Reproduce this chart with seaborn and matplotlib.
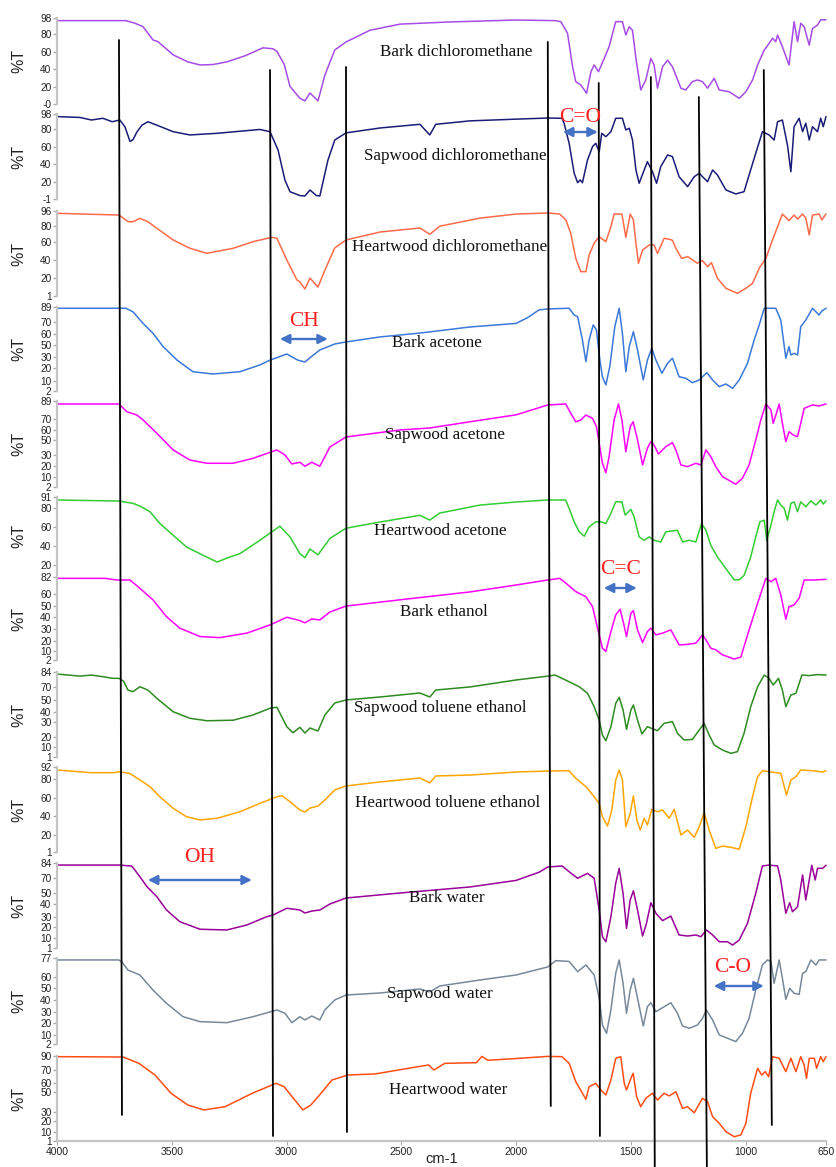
import matplotlib
matplotlib.use('Agg')
import matplotlib.pyplot as plt
import pandas as pd
import seaborn as sns

sns.set_style('white')
plt.rcParams['font.family'] = ['Liberation Sans', 'DejaVu Sans']

# spectra: (wavenumber cm-1, %T)
bark_dcm = [(4000, 95), (3780, 95), (3700, 95), (3660, 92), (3625, 88), (3582, 73), (3560, 71), (3494, 56),
            (3430, 48), (3377, 44.5), (3320, 45), (3260, 48), (3180, 55), (3103, 64), (3060, 63), (3042, 60),
            (3010, 45), (2985, 20), (2942, 6.5), (2920, 3.5), (2898, 12.6), (2863, 3.5), (2833, 33), (2790, 61.5),
            (2741, 70.7), (2637, 84), (2506, 91), (2289, 93.5), (2000, 95.7), (1830, 95), (1805, 93.8), (1776, 80.6),
            (1754, 42.5), (1740, 25.5), (1718, 21.7), (1693, 12.2), (1674, 36.8), (1660, 44.5), (1641, 36.8),
            (1616, 52), (1595, 65.3), (1566, 93.8), (1537, 93.8), (1522, 78.6), (1507, 88), (1493, 84), (1478, 52),
            (1457, 16), (1435, 27.4), (1413, 52), (1399, 44.5), (1384, 18), (1362, 42.5), (1340, 50), (1319, 42.5),
            (1282, 18), (1261, 16), (1232, 25.5), (1210, 27.4), (1188, 25.5), (1166, 18), (1137, 29.3), (1115, 16),
            (1072, 14), (1028, 6.5), (999, 14), (970, 27.4), (948, 44.5), (919, 61.5), (898, 69), (883, 74.9),
            (869, 71), (861, 78.6), (840, 65.3), (811, 44.5), (789, 93.8), (774, 71), (760, 92), (745, 88), (723, 67),
            (709, 86), (687, 90), (673, 96), (650, 96)]

sapwood_dcm = [(4000, 95), (3900, 94), (3850, 91), (3800, 93), (3760, 89), (3726, 91), (3704, 83), (3682, 66),
               (3669, 68), (3652, 77), (3630, 85), (3604, 89), (3565, 85), (3494, 77.4), (3421, 73.6), (3303, 75.5),
               (3116, 80), (3072, 77.4), (3037, 56), (3007, 21), (2985, 7.5), (2942, 3), (2920, 2.5), (2898, 9.5),
               (2870, 3), (2855, 2.5), (2820, 44), (2790, 67.7), (2741, 76), (2593, 81.7), (2419, 86), (2376, 73.6),
               (2350, 86), (2201, 90), (2000, 92), (1862, 93.3), (1800, 93), (1791, 87.2), (1769, 63.9), (1747, 29),
               (1732, 18), (1721, 21.2), (1711, 18), (1689, 44.4), (1667, 60), (1653, 63.9), (1638, 54), (1627, 75.5),
               (1609, 71.6), (1587, 77.4), (1566, 93), (1537, 93), (1522, 79.4), (1507, 81.4), (1493, 67.7),
               (1478, 32.8), (1464, 17.3), (1442, 32.8), (1428, 42.5), (1406, 30.8), (1388, 17.3), (1370, 36.7),
               (1340, 50.3), (1319, 48.4), (1290, 25), (1253, 13.4), (1224, 25), (1202, 29), (1188, 25), (1166, 19.2),
               (1144, 32.8), (1123, 27), (1086, 9.5), (1043, 4.9), (1007, 7.5), (985, 27), (956, 52.3), (927, 77.4),
               (898, 73.6), (876, 67.7), (861, 89), (840, 91), (818, 62), (803, 30.8), (789, 83.2), (767, 93),
               (752, 77.4), (738, 87.2), (723, 67.7), (709, 83.2), (687, 77.4), (673, 93), (662, 83.2), (650, 95)]

heartwood_dcm = [(4000, 93.4), (3730, 91.5), (3690, 84), (3669, 84), (3639, 87.8), (3604, 84), (3565, 76.7),
                 (3494, 63.6), (3421, 54.3), (3347, 48.7), (3233, 54.3), (3146, 61.7), (3064, 66.6), (3042, 65.5),
                 (2999, 41.3), (2955, 19), (2942, 16.7), (2920, 8.8), (2898, 21), (2863, 11), (2833, 30), (2790, 54.7),
                 (2741, 63.6), (2593, 72.5), (2419, 77), (2376, 70), (2333, 79), (2159, 88), (2000, 92.6),
                 (1862, 93.8), (1810, 92.6), (1783, 86), (1762, 71), (1740, 43), (1718, 28.2), (1696, 28.2),
                 (1682, 46.8), (1660, 60), (1638, 67.3), (1609, 61.7), (1587, 78.5), (1573, 92.6), (1539, 92.6),
                 (1522, 66.6), (1503, 92.6), (1489, 86), (1478, 60), (1467, 37.6), (1449, 52.4), (1420, 58),
                 (1399, 58), (1384, 48.7), (1355, 65.5), (1333, 64.4), (1319, 63.3), (1304, 54.3), (1279, 43),
                 (1253, 45), (1210, 37.6), (1188, 40.5), (1166, 33.8), (1149, 38.3), (1123, 20.8), (1086, 9.6),
                 (1036, 4), (999, 9.6), (970, 15.2), (941, 32), (912, 43), (883, 63.6), (840, 92.6), (811, 85.2),
                 (789, 91.5), (774, 87), (752, 92.6), (738, 88), (723, 69.2), (709, 91.5), (680, 92.6), (668, 86),
                 (650, 92.6)]

bark_acetone = [(4000, 87.7), (3700, 87.7), (3669, 84), (3625, 72), (3582, 61.8), (3538, 48), (3477, 34),
                (3408, 22), (3321, 19.6), (3203, 22), (3116, 29), (3072, 34), (2999, 40.3), (2951, 34), (2920, 32),
                (2890, 38), (2855, 44.5), (2790, 50.7), (2741, 52.8), (2593, 58), (2419, 62), (2201, 68.3),
                (2000, 72), (1950, 78), (1900, 86), (1862, 87), (1769, 87.7), (1747, 80.7), (1732, 79), (1711, 54.8),
                (1696, 32.4), (1682, 54.8), (1664, 70.4), (1650, 65.2), (1635, 34), (1624, 16.8), (1609, 8.3),
                (1592, 27.2), (1570, 68.6), (1551, 87.7), (1537, 61.8), (1522, 22), (1507, 48), (1489, 63.4),
                (1471, 44.5), (1446, 13.4), (1428, 34), (1409, 46.2), (1391, 34), (1365, 20.4), (1340, 30.7),
                (1319, 36), (1290, 16.8), (1261, 15.2), (1232, 10.6), (1202, 13.4), (1188, 16.8), (1169, 21),
                (1144, 13.4), (1115, 6.5), (1086, 9.3), (1057, 4.8), (1028, 13.4), (992, 30.7), (963, 54.8),
                (941, 70.4), (919, 87.7), (869, 87.7), (847, 75.5), (825, 36), (811, 48), (803, 39.3), (789, 41),
                (774, 39.3), (760, 68.6), (738, 75.5), (709, 87.7), (680, 80.7), (668, 85), (650, 87.7)]

sapwood_acetone = [(4000, 86), (3730, 86), (3696, 78.2), (3652, 74.8), (3625, 69.8), (3565, 56.3), (3494, 39.5),
                   (3421, 29.3), (3347, 26), (3233, 26), (3146, 31), (3042, 39.5), (3007, 34.4), (2977, 25.3),
                   (2942, 27), (2920, 23), (2890, 27), (2855, 23), (2811, 42.5), (2741, 52.6), (2506, 59.7),
                   (2376, 61.7), (2201, 68), (2000, 75), (1862, 85), (1784, 86), (1762, 76.6), (1740, 68),
                   (1718, 69.8), (1696, 74.8), (1667, 71.5), (1650, 63), (1638, 46.2), (1624, 26), (1609, 16.5),
                   (1595, 32.7), (1573, 69.8), (1554, 86), (1539, 69.8), (1522, 37.7), (1503, 63), (1490, 68),
                   (1471, 49.6), (1449, 24.3), (1428, 41.2), (1413, 47.9), (1399, 44.5), (1380, 35.4), (1348, 42.8),
                   (1319, 46.8), (1304, 39.5), (1282, 24.3), (1253, 22.6), (1217, 26), (1195, 24.3), (1173, 39.5),
                   (1152, 32.7), (1130, 22.6), (1101, 12.5), (1043, 4.8), (1014, 10.8), (985, 24.3), (956, 49.6),
                   (934, 69.8), (912, 86), (890, 79.9), (880, 66.5), (866, 76.6), (854, 86), (840, 66.5),
                   (825, 47.9), (811, 58), (793, 54.6), (774, 52.9), (760, 66.5), (745, 81.6), (709, 85), (680, 84),
                   (650, 86)]

heartwood_acetone = [(4000, 87.9), (3730, 86.8), (3669, 84.4), (3639, 81.6), (3595, 75.7), (3552, 63.5),
                     (3494, 51.3), (3436, 39.1), (3364, 30.5), (3303, 23.5), (3247, 28.7), (3203, 32.2),
                     (3116, 46.1), (3029, 60.7), (2985, 49.6), (2942, 32.2), (2920, 28), (2898, 37), (2863, 31),
                     (2811, 48), (2741, 58.6), (2593, 65), (2419, 72), (2376, 67), (2333, 74.3), (2158, 82.6),
                     (2000, 85.8), (1862, 87.9), (1784, 87.9), (1769, 79.2), (1747, 65.2), (1725, 54.8),
                     (1703, 50.3), (1682, 60), (1653, 65.2), (1631, 65.2), (1609, 63.5), (1587, 74), (1566, 86),
                     (1539, 86), (1525, 72.2), (1500, 78.2), (1486, 70.4), (1464, 49.6), (1442, 46.1), (1420, 49.6),
                     (1399, 46.1), (1370, 44.3), (1348, 54.8), (1319, 55.8), (1297, 56.4), (1275, 44.3),
                     (1246, 46.1), (1217, 44.3), (1192, 63.5), (1173, 56.4), (1152, 40.9), (1123, 28.7),
                     (1086, 16.6), (1050, 5), (1028, 5), (1007, 9.6), (978, 28.7), (956, 49.6), (938, 65.2),
                     (919, 66.9), (908, 46.1), (890, 61.8), (876, 75.7), (861, 87.9), (847, 82.6), (832, 79.2),
                     (818, 66.9), (803, 84.4), (789, 86), (774, 75.7), (760, 86), (738, 80.9), (716, 87),
                     (694, 82.6), (673, 87.9), (662, 83.7), (650, 87)]

bark_ethanol = [(4000, 80.7), (3790, 80.7), (3740, 79.1), (3682, 79.1), (3639, 71.1), (3582, 60), (3523, 43.8),
                (3465, 32.7), (3377, 24.6), (3290, 23.6), (3173, 27.9), (3072, 35.8), (2999, 43.2), (2942, 40),
                (2920, 37.8), (2890, 41.6), (2855, 40.6), (2811, 48.3), (2741, 54), (2506, 60), (2201, 67.6),
                (2000, 74.3), (1862, 79.1), (1810, 80.7), (1783, 76), (1740, 67.9), (1696, 63), (1667, 53.4),
                (1645, 32.7), (1624, 13.4), (1609, 10.2), (1587, 29.4), (1566, 45.5), (1547, 50.9), (1532, 37.5),
                (1519, 24.6), (1500, 47.1), (1489, 49.6), (1471, 31), (1449, 18.8), (1428, 29.4), (1413, 32.7),
                (1391, 26.2), (1362, 27.9), (1326, 31), (1290, 16.6), (1261, 16.9), (1217, 18.2), (1188, 26.2),
                (1173, 21.4), (1152, 13.4), (1130, 11.8), (1101, 7), (1050, 2.9), (1021, 4.8), (985, 31),
                (948, 56.7), (912, 80.7), (890, 77.5), (869, 80.7), (847, 64.7), (825, 41.3), (811, 53.4),
                (789, 55.1), (767, 61.5), (745, 79.1), (709, 79.1), (650, 79.7)]

sapwood_tol_eth = [(4000, 82), (3900, 80), (3850, 81), (3800, 79.4), (3756, 77.8), (3730, 77.8), (3710, 75),
                   (3691, 66.4), (3669, 64.8), (3639, 69.6), (3604, 66.4), (3565, 58.3), (3494, 45.2), (3421, 38.8),
                   (3347, 36.4), (3233, 36.9), (3146, 42), (3072, 48.6), (3042, 49.6), (2999, 30.6), (2972, 24.7),
                   (2942, 30), (2920, 24.4), (2898, 29.3), (2863, 26.4), (2833, 42), (2790, 53.7), (2741, 56.7),
                   (2593, 59.6), (2419, 63.5), (2376, 59.6), (2350, 66.4), (2201, 69.4), (2000, 76.2), (1862, 80),
                   (1830, 81), (1769, 74.5), (1725, 69.6), (1689, 63.2), (1660, 50.1), (1638, 37.1), (1624, 22.5),
                   (1609, 16.9), (1587, 30.6), (1566, 53.4), (1551, 59.3), (1534, 46.9), (1519, 28), (1500, 46.9),
                   (1489, 51.8), (1471, 37.1), (1452, 23.5), (1428, 30.6), (1399, 28), (1384, 26.7), (1355, 33.9),
                   (1319, 35.5), (1297, 24.1), (1268, 17.6), (1232, 18.2), (1202, 27.4), (1181, 33.9), (1159, 22.5),
                   (1137, 12.7), (1101, 7.8), (1064, 4.6), (1036, 6.2), (1007, 24.1), (978, 50.1), (948, 69.6),
                   (919, 81), (898, 77.8), (880, 71.3), (857, 77.8), (840, 66.4), (825, 50.1), (803, 61.5),
                   (781, 63.2), (755, 81), (723, 80.5), (687, 81.5), (650, 81)]

heartwood_tol_eth = [(4000, 88.8), (3850, 85.9), (3750, 85.9), (3730, 87), (3682, 85), (3639, 78.1), (3595, 71),
                     (3552, 60.2), (3494, 47.8), (3436, 38.8), (3377, 35.3), (3303, 37.1), (3203, 44.1),
                     (3116, 53.1), (3042, 60.2), (3020, 61.3), (2985, 54.8), (2942, 46), (2920, 43.8), (2898, 48),
                     (2863, 50.2), (2833, 56.7), (2790, 67.4), (2741, 71.7), (2593, 76), (2419, 80.2), (2376, 74.9),
                     (2350, 82.4), (2201, 83.4), (2000, 86.6), (1862, 87.7), (1770, 88), (1740, 79.9), (1696, 71),
                     (1660, 60.2), (1638, 53.1), (1624, 38.8), (1602, 28.8), (1583, 46), (1566, 78.1), (1551, 88.8),
                     (1537, 78.1), (1522, 28.1), (1503, 42.4), (1489, 61), (1474, 35.3), (1459, 24.5), (1442, 37.1),
                     (1428, 29.9), (1409, 46.7), (1384, 44.1), (1362, 46), (1333, 37.1), (1311, 46.7), (1282, 19.2),
                     (1253, 24.5), (1224, 16.7), (1202, 28.1), (1181, 43.1), (1159, 24.5), (1130, 4.9), (1101, 7.4),
                     (1064, 6), (1028, 3.9), (999, 28.1), (970, 60.2), (948, 81.6), (927, 88), (847, 85.3),
                     (822, 62), (803, 78.1), (781, 81.6), (760, 88.8), (709, 88), (665, 86.6), (650, 88)]

bark_water = [(4000, 82), (3730, 82), (3674, 81), (3639, 70.6), (3608, 60.9), (3565, 51.1), (3523, 38.1),
              (3465, 26.7), (3377, 19.3), (3260, 18.6), (3173, 23.5), (3086, 31.6), (3059, 33.2), (2999, 39.8),
              (2942, 38.1), (2920, 35.2), (2890, 37.1), (2855, 38.1), (2811, 44), (2741, 49.8), (2506, 54.7),
              (2201, 60.6), (2000, 67), (1900, 75), (1862, 80.1), (1800, 81.1), (1769, 75.5), (1732, 69.1),
              (1689, 73.9), (1660, 69.1), (1638, 38.1), (1624, 12), (1609, 7.1), (1587, 31.6), (1566, 64.2),
              (1551, 78.8), (1534, 54.4), (1519, 20.2), (1503, 47.9), (1489, 56.9), (1471, 38.1), (1449, 12.7),
              (1432, 25.1), (1413, 45.2), (1391, 34.9), (1362, 27.7), (1326, 32.2), (1290, 13.7), (1253, 12.7),
              (1217, 13.7), (1195, 12), (1171, 18.6), (1144, 13.7), (1115, 7.1), (1079, 7.1), (1057, 3.9),
              (1028, 8.8), (992, 25.1), (956, 54.4), (927, 81.1), (898, 82), (861, 81.1), (847, 67.4), (825, 34.9),
              (808, 45.2), (796, 36.4), (774, 41.3), (752, 72.3), (738, 47.9), (712, 81.8), (697, 67.4),
              (687, 78.8), (665, 78.8), (650, 81.8)]

sapwood_water = [(4000, 75.3), (3730, 75.3), (3715, 73), (3691, 66.5), (3639, 62.2), (3582, 49.1), (3523, 37.5),
                 (3451, 25.8), (3377, 21.5), (3260, 20.6), (3146, 25.8), (3042, 31.7), (3007, 28.8), (2977, 20.6),
                 (2942, 25.8), (2920, 23), (2890, 26.4), (2855, 23), (2833, 31.7), (2790, 40.4), (2741, 44.7),
                 (2593, 46.5), (2419, 50), (2376, 47.4), (2333, 52.6), (2158, 57.8), (2000, 62.2), (1862, 69.2),
                 (1827, 74.7), (1769, 74), (1732, 65.1), (1696, 70.9), (1660, 62.2), (1638, 41.9), (1624, 18.6),
                 (1606, 11.3), (1587, 31.7), (1566, 63.7), (1551, 75.3), (1534, 54.9), (1519, 28.8), (1503, 49.1),
                 (1489, 59.3), (1471, 41.9), (1446, 17.7), (1428, 34.5), (1413, 38), (1391, 30.2), (1355, 34.5),
                 (1326, 38), (1297, 28.8), (1275, 17.7), (1246, 15.7), (1210, 18.6), (1188, 24.4), (1171, 31.7),
                 (1144, 23), (1115, 9.9), (1079, 7), (1043, 4.1), (1014, 11.3), (985, 24.4), (956, 49.1),
                 (927, 70.9), (905, 75.3), (890, 74), (876, 54.9), (854, 75.3), (840, 59.3), (825, 41),
                 (808, 50.6), (789, 46.2), (767, 45.3), (752, 63.7), (738, 65.1), (716, 75.3), (694, 70.9),
                 (680, 75.3), (650, 75.3)]

heartwood_water = [(4000, 89.3), (3730, 89), (3713, 89), (3643, 82.3), (3573, 70.1), (3503, 50.9), (3430, 38.7),
                   (3360, 33.5), (3268, 36.9), (3150, 50.9), (3046, 61.4), (3011, 57.9), (2964, 43.9), (2929, 33.5),
                   (2894, 38.7), (2850, 50.9), (2802, 64.9), (2733, 70.1), (2615, 71.2), (2428, 78.8), (2381, 80.6),
                   (2358, 75.3), (2311, 82.3), (2173, 83), (2149, 89.6), (2123, 85.5), (2010, 87.2), (1862, 89.6),
                   (1800, 89.3), (1769, 82.4), (1740, 63.1), (1711, 51), (1696, 44.7), (1682, 57.9), (1653, 61.4),
                   (1631, 54.4), (1609, 49.2), (1587, 64.9), (1566, 87.6), (1544, 89.3), (1529, 61.4), (1519, 54.4),
                   (1500, 66.6), (1490, 71.9), (1475, 47.4), (1457, 36.9), (1435, 45.7), (1406, 51), (1384, 43.9),
                   (1355, 51), (1333, 48.2), (1304, 52.6), (1275, 35.2), (1253, 36.9), (1224, 30.6), (1188, 45.7),
                   (1166, 42.2), (1144, 26.4), (1115, 19.5), (1086, 10.8), (1050, 5.5), (1021, 7.3), (999, 19.5),
                   (978, 51), (948, 77.1), (930, 70.1), (915, 73.6), (900, 68.3), (883, 89.3), (854, 87.6),
                   (825, 73.6), (803, 87.6), (781, 73.6), (760, 89.3), (745, 80.6), (735, 66.6), (723, 87.6),
                   (701, 87.6), (691, 77.1), (673, 89.3), (662, 84.1), (650, 89.3)]

samples = ['Bark dichloromethane', 'Sapwood dichloromethane', 'Heartwood dichloromethane',
           'Bark acetone', 'Sapwood acetone', 'Heartwood acetone', 'Bark ethanol',
           'Sapwood toluene ethanol', 'Heartwood toluene ethanol', 'Bark water',
           'Sapwood water', 'Heartwood water']
spectra = [bark_dcm, sapwood_dcm, heartwood_dcm, bark_acetone, sapwood_acetone, heartwood_acetone,
           bark_ethanol, sapwood_tol_eth, heartwood_tol_eth, bark_water, sapwood_water, heartwood_water]
colors = ['#a64ce6', '#1c1c78', '#ff6a4a', '#3b78d8', '#ff00ff', '#33cc33',
          '#ff00ff', '#2e8b22', '#ffa500', '#990099', '#778899', '#ff4d14']

# y range of each panel (bottom, top) and its tick labels
y_limits = [(0, 98), (-1, 98), (1, 96), (2, 89), (2, 89), (10, 91),
            (2, 82), (1, 84), (1, 92), (1, 84), (2, 77), (1, 90)]
y_tick_labels = [['98', '80', '60', '40', '20', '-0'], ['98', '80', '60', '40', '20', '-1'],
                 ['96', '80', '60', '40', '20', '1'], ['89', '70', '60', '50', '30', '20', '10', '2'],
                 ['89', '70', '60', '50', '30', '20', '10', '2'], ['91', '80', '60', '40', '20'],
                 ['82', '60', '50', '40', '30', '20', '10', '2'], ['84', '70', '50', '40', '30', '20', '10', '1'],
                 ['92', '80', '60', '40', '20', '1'], ['84', '70', '50', '40', '30', '20', '10', '1'],
                 ['77', '60', '50', '40', '30', '20', '10', '2'], ['90', '70', '60', '50', '30', '20', '10', '1']]
# where the original software put those labels (pixel rows; its axis labels are unevenly spaced)
y_tick_rows = [[18, 34, 52, 69, 87, 104], [114, 129, 147, 164, 182, 199], [211, 226, 242, 260, 278, 296],
               [307, 322, 334, 345, 357, 368, 381, 391], [401, 419, 430, 440, 455, 466, 477, 487],
               [497, 508, 527, 546, 565], [577, 594, 606, 617, 629, 641, 651, 660],
               [672, 687, 700, 712, 722, 737, 747, 757], [767, 779, 798, 816, 835, 852],
               [863, 878, 893, 904, 917, 927, 938, 948], [958, 977, 988, 1000, 1012, 1023, 1035, 1044],
               [1056, 1070, 1083, 1092, 1112, 1121, 1132, 1141]]

x_ticks = [4000, 3500, 3000, 2500, 2000, 1500, 1000, 650]

# layout in pixels (figure 836 x 1167)
W, H = 836, 1167
left_px, right_px = 57, 826
panel_top = [18, 114, 211, 307, 401, 497, 577, 672, 767, 863, 958, 1056]
panel_bottom = [104, 199, 296, 391, 487, 575, 660, 757, 852, 948, 1044, 1141]

fig = plt.figure(figsize=(W / 100, H / 100), dpi=100)

for i, name in enumerate(samples):
    top, bot = panel_top[i], panel_bottom[i]
    lo, hi = y_limits[i]
    ax = fig.add_axes([left_px / W, 1 - bot / H, (right_px - left_px) / W, (bot - top) / H])
    ax.patch.set_alpha(0)
    df = pd.DataFrame(spectra[i], columns=['wavenumber', 'T'])
    sns.lineplot(data=df, x='wavenumber', y='T', ax=ax, color=colors[i], linewidth=1.1,
                 estimator=None, sort=False, legend=False)
    for ln in ax.lines:
        ln.set_clip_on(False)
        ln.set_solid_joinstyle('round')
    ax.set_xlim(4000, 650)
    ax.set_ylim(lo, hi)
    ax.set_yticks([hi - (r - top) / (bot - top) * (hi - lo) for r in y_tick_rows[i]])
    ax.set_yticklabels(y_tick_labels[i])
    ax.tick_params(axis='y', left=True, length=3, width=1, color='#aaaaaa', labelsize=7.3,
                   labelcolor='#222222', pad=1)
    for s in ['top', 'right', 'bottom']:
        ax.spines[s].set_visible(False)
    ax.spines['left'].set_color('#c4c4c4')
    ax.spines['left'].set_linewidth(1.6)
    ax.set_ylabel('%T', fontsize=11.5, color='#222222')
    ax.yaxis.set_label_coords((26 - left_px) / (right_px - left_px), 0.5)
    if i == len(samples) - 1:
        ax.spines['bottom'].set_visible(True)
        ax.spines['bottom'].set_color('#c4c4c4')
        ax.spines['bottom'].set_linewidth(1.6)
        ax.set_xticks(x_ticks)
        ax.set_xticklabels([str(v) for v in x_ticks])
        ax.tick_params(axis='x', bottom=True, length=3, color='#aaaaaa', labelsize=7.5,
                       labelcolor='#222222', pad=1)
        ax.set_xlabel('')
    else:
        ax.set_xticks([])
        ax.set_xlabel('')

# overlay: x in cm-1, y in pixel rows from the top
ov = fig.add_axes([left_px / W, 0, (right_px - left_px) / W, 1])
ov.patch.set_alpha(0)
ov.set_xlim(4000, 650)
ov.set_ylim(H, 0)
ov.axis('off')

ov.text(2325, 1159, 'cm-1', ha='center', va='center', fontsize=10.5, color='#222222')

# sample names
title_wn = [2262, 2267, 2288, 2345, 2310, 2332, 2315, 2332, 2297, 2302, 2332, 2297]
title_row = [52, 156, 247, 343, 435, 531, 612, 708, 803, 898, 994, 1090]
for name, xw, yr in zip(samples, title_wn, title_row):
    ov.text(xw, yr, name, ha='center', va='center', fontsize=12.3,
            family=['Liberation Serif', 'DejaVu Serif'], color='#111111')

# hand-drawn band marker lines
marker_wn_top = [3730, 3072, 2741, 1862, 1640, 1413, 1204, 921]
marker_wn_bottom = [3717, 3059, 2737, 1849, 1635, 1396, 1169, 886]
marker_row_top = [40, 70, 67, 42, 83, 77, 97, 70]
marker_row_bottom = [1115, 1136, 1132, 1106, 1136, 1167, 1167, 1125]
for x0, x1, y0, y1 in zip(marker_wn_top, marker_wn_bottom, marker_row_top, marker_row_bottom):
    ov.plot([x0, x1], [y0, y1], color='black', linewidth=1.3, clip_on=False)

# band assignments
band_names = ['C=O', 'CH', 'C=C', 'OH', 'C-O']
band_text_wn = [1720, 2925, 1546, 3377, 1058]
band_text_row = [117, 322, 570, 858, 967]
band_from = [1796, 3029, 1618, 3604, 1139]
band_to = [1644, 2820, 1474, 3151, 921]
band_row = [132, 339, 588, 880, 986]
for nm, tx, ty, a, b, r in zip(band_names, band_text_wn, band_text_row, band_from, band_to, band_row):
    ov.text(tx, ty, nm, ha='center', va='center', fontsize=15.5, color='#ff2020',
            family=['Liberation Serif', 'DejaVu Serif'])
    ov.annotate('', xy=(b, r), xytext=(a, r),
                arrowprops=dict(arrowstyle='<|-|>', color='#4472c4', lw=1.7,
                                mutation_scale=14, shrinkA=0, shrinkB=0))

fig.savefig('out.png', dpi=100)
